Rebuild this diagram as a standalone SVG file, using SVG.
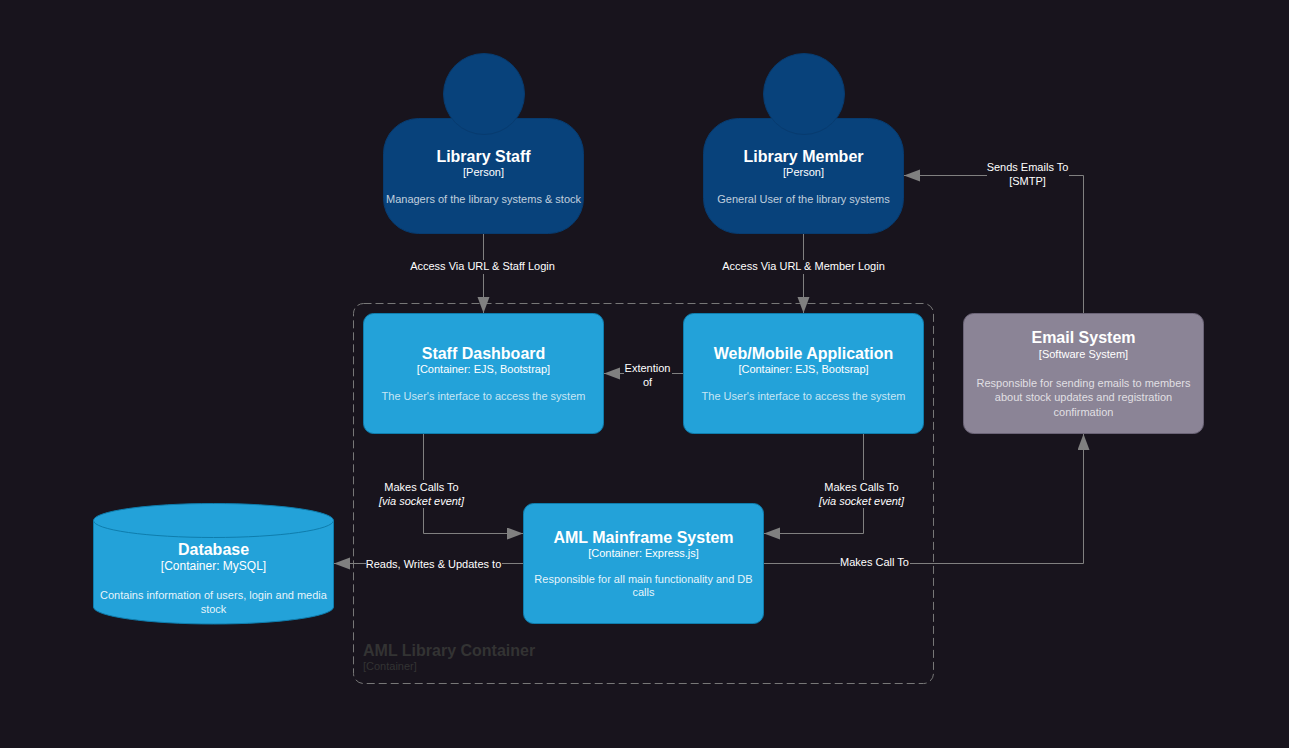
<svg xmlns="http://www.w3.org/2000/svg" width="1289" height="748" viewBox="0 0 1289 748">
<style>
text{font-family:"Liberation Sans",Arial,sans-serif;text-anchor:middle;fill:#fff}
.t{font-size:16px;font-weight:bold}
.k{font-size:11px}
.d{font-size:11px;fill-opacity:.75}
.l{font-size:11px}
.i{font-style:italic}
.p{fill:#08427b;stroke:#073b6f}
.c{fill:#23a2d9;stroke:#0e7dad}
.e{fill:#8b8496;stroke:#6b6477}
.w{fill:none;stroke:#808080;stroke-width:1}
.bg{fill:#18141d}
</style>
<defs>
<marker id="a" markerUnits="userSpaceOnUse" markerWidth="18" markerHeight="14" refX="16" refY="6" orient="auto" viewBox="0 0 18 14"><path d="M0 0L16 6L0 12z" fill="#808080"/></marker>
</defs>
<rect width="1289" height="748" fill="#18141d"/>
<g id="boundary">
<rect x="353.500" y="303.500" width="580" height="380" rx="10" fill="none" stroke="#777" stroke-dasharray="8 4"/>
<text x="363" y="656" style="text-anchor:start;font-size:16px;font-weight:bold;fill:#333">AML Library Container</text>
<text x="363" y="670" style="text-anchor:start;font-size:11px;fill:#333">[Container]</text>
</g>
<g id="connectors">
<path class="w" marker-end="url(#a)" d="M483.500 233.500V313"/>
<path class="w" marker-end="url(#a)" d="M803.500 233.500V313"/>
<path class="w" marker-end="url(#a)" d="M683.500 373.500H604"/>
<path class="w" marker-end="url(#a)" d="M423.500 433.500V533.500H523"/>
<path class="w" marker-end="url(#a)" d="M863.500 433.500V533.500H764"/>
<path class="w" marker-end="url(#a)" d="M523.500 563.500H334"/>
<path class="w" marker-end="url(#a)" d="M763.500 563.500H1083.500V434"/>
<path class="w" marker-end="url(#a)" d="M1083.500 313.500V175.500H904"/>
<rect class="bg" x="410" y="260" width="145" height="14"/>
<text class="l" x="482.500" y="270">Access Via URL &amp; Staff Login</text>
<rect class="bg" x="722" y="260" width="163" height="14"/>
<text class="l" x="803.500" y="270">Access Via URL &amp; Member Login</text>
<rect class="bg" x="624" y="361" width="48" height="28"/>
<text class="l" x="647.500" y="372">Extention</text>
<text class="l" x="647.500" y="386">of</text>
<rect class="bg" x="378" y="480" width="88" height="28"/>
<text class="l" x="421.500" y="491">Makes Calls To</text>
<text class="l i" x="421.500" y="505">[via socket event]</text>
<rect class="bg" x="818" y="480" width="88" height="28"/>
<text class="l" x="861.500" y="491">Makes Calls To</text>
<text class="l i" x="861.500" y="505">[via socket event]</text>
<rect class="bg" x="366" y="557" width="136" height="14"/>
<text class="l" x="433.500" y="568">Reads, Writes &amp; Updates to</text>
<rect class="bg" x="840" y="556" width="70" height="14"/>
<text class="l" x="874.500" y="566">Makes Call To</text>
<rect class="bg" x="987" y="161" width="82" height="28"/>
<text class="l" x="1027.500" y="171">Sends Emails To</text>
<text class="l" x="1027.500" y="185">[SMTP]</text>
</g>
<g id="library-staff">
<rect class="p" x="383.500" y="118.500" width="200" height="115" rx="35"/>
<circle class="p" cx="484" cy="94" r="40.500"/>
<text class="t" x="483.500" y="162">Library Staff</text>
<text class="k" x="483.500" y="176">[Person]</text>
<text class="d" x="483.500" y="203">Managers of the library systems &amp; stock</text>
</g>
<g id="library-member">
<rect class="p" x="703.500" y="118.500" width="200" height="115" rx="35"/>
<circle class="p" cx="804" cy="94" r="40.500"/>
<text class="t" x="803.500" y="162">Library Member</text>
<text class="k" x="803.500" y="176">[Person]</text>
<text class="d" x="803.500" y="203">General User of the library systems</text>
</g>
<g id="staff-dashboard">
<rect class="c" x="363.500" y="313.500" width="240" height="120" rx="10"/>
<text class="t" x="483.500" y="359">Staff Dashboard</text>
<text class="k" x="483.500" y="373">[Container: EJS, Bootstrap]</text>
<text class="d" x="483.500" y="400">The User's interface to access the system</text>
</g>
<g id="web-mobile">
<rect class="c" x="683.500" y="313.500" width="240" height="120" rx="10"/>
<text class="t" x="803.500" y="359">Web/Mobile Application</text>
<text class="k" x="803.500" y="373">[Container: EJS, Bootsrap]</text>
<text class="d" x="803.500" y="400">The User's interface to access the system</text>
</g>
<g id="email-system">
<rect class="e" x="963.500" y="313.500" width="240" height="120" rx="10"/>
<text class="t" x="1083.500" y="343">Email System</text>
<text class="k" x="1083.500" y="358">[Software System]</text>
<text class="d" x="1083.500" y="387">Responsible for sending emails to members</text>
<text class="d" x="1083.500" y="401">about stock updates and registration</text>
<text class="d" x="1083.500" y="416">confirmation</text>
</g>
<g id="mainframe">
<rect class="c" x="523.500" y="503.500" width="240" height="120" rx="10"/>
<text class="t" x="643.500" y="543">AML Mainframe System</text>
<text class="k" x="643.500" y="557">[Container: Express.js]</text>
<text class="d" x="643.500" y="583" style="fill-opacity:.9">Responsible for all main functionality and DB</text>
<text class="d" x="643.500" y="596" style="fill-opacity:.9">calls</text>
</g>
<g id="database">
<path class="c" d="M93.500 520.500A120 17 0 0 1 333.500 520.500V607A120 17 0 0 1 93.500 607Z"/>
<path d="M93.500 520.500A120 17 0 0 0 333.500 520.500" fill="none" stroke="#0e7dad"/>
<text class="t" x="213.500" y="555">Database</text>
<text class="k" style="font-size:12px" x="213.500" y="570">[Container: MySQL]</text>
<text class="d" x="213.500" y="599" style="fill-opacity:.9">Contains information of users, login and media</text>
<text class="d" x="213.500" y="613" style="fill-opacity:.9">stock</text>
</g>
</svg>
